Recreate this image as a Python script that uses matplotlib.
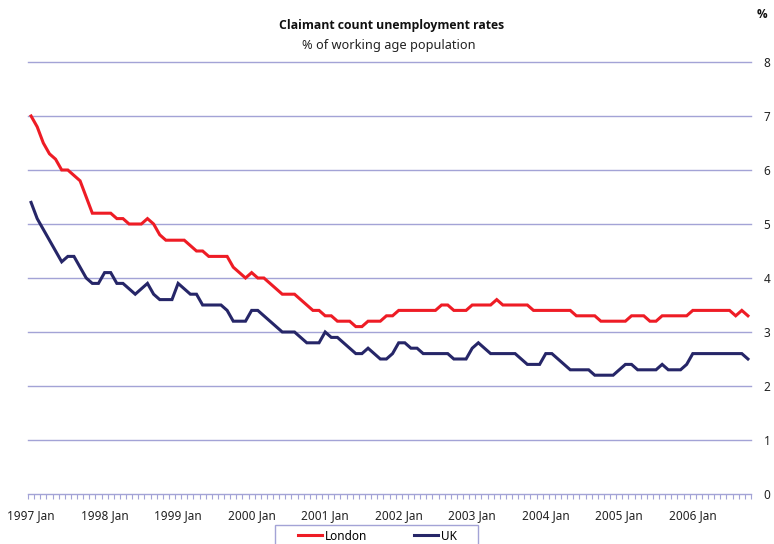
import matplotlib
matplotlib.use("Agg")
import matplotlib.pyplot as plt
from matplotlib.patches import Rectangle

plt.rcParams['font.family'] = ['Noto Sans', 'DejaVu Sans']

years = ['1997', '1998', '1999', '2000', '2001', '2002', '2003', '2004', '2005', '2006']
year_labels = [y + ' Jan' for y in years]

london = [7.0, 6.8, 6.5, 6.3, 6.2, 6.0, 6.0, 5.9, 5.8, 5.5, 5.2, 5.2,
          5.2, 5.2, 5.1, 5.1, 5.0, 5.0, 5.0, 5.1, 5.0, 4.8, 4.7, 4.7,
          4.7, 4.7, 4.6, 4.5, 4.5, 4.4, 4.4, 4.4, 4.4, 4.2, 4.1, 4.0,
          4.1, 4.0, 4.0, 3.9, 3.8, 3.7, 3.7, 3.7, 3.6, 3.5, 3.4, 3.4,
          3.3, 3.3, 3.2, 3.2, 3.2, 3.1, 3.1, 3.2, 3.2, 3.2, 3.3, 3.3,
          3.4, 3.4, 3.4, 3.4, 3.4, 3.4, 3.4, 3.5, 3.5, 3.4, 3.4, 3.4,
          3.5, 3.5, 3.5, 3.5, 3.6, 3.5, 3.5, 3.5, 3.5, 3.5, 3.4, 3.4,
          3.4, 3.4, 3.4, 3.4, 3.4, 3.3, 3.3, 3.3, 3.3, 3.2, 3.2, 3.2,
          3.2, 3.2, 3.3, 3.3, 3.3, 3.2, 3.2, 3.3, 3.3, 3.3, 3.3, 3.3,
          3.4, 3.4, 3.4, 3.4, 3.4, 3.4, 3.4, 3.3, 3.4, 3.3]

uk = [5.4, 5.1, 4.9, 4.7, 4.5, 4.3, 4.4, 4.4, 4.2, 4.0, 3.9, 3.9,
      4.1, 4.1, 3.9, 3.9, 3.8, 3.7, 3.8, 3.9, 3.7, 3.6, 3.6, 3.6,
      3.9, 3.8, 3.7, 3.7, 3.5, 3.5, 3.5, 3.5, 3.4, 3.2, 3.2, 3.2,
      3.4, 3.4, 3.3, 3.2, 3.1, 3.0, 3.0, 3.0, 2.9, 2.8, 2.8, 2.8,
      3.0, 2.9, 2.9, 2.8, 2.7, 2.6, 2.6, 2.7, 2.6, 2.5, 2.5, 2.6,
      2.8, 2.8, 2.7, 2.7, 2.6, 2.6, 2.6, 2.6, 2.6, 2.5, 2.5, 2.5,
      2.7, 2.8, 2.7, 2.6, 2.6, 2.6, 2.6, 2.6, 2.5, 2.4, 2.4, 2.4,
      2.6, 2.6, 2.5, 2.4, 2.3, 2.3, 2.3, 2.3, 2.2, 2.2, 2.2, 2.2,
      2.3, 2.4, 2.4, 2.3, 2.3, 2.3, 2.3, 2.4, 2.3, 2.3, 2.3, 2.4,
      2.6, 2.6, 2.6, 2.6, 2.6, 2.6, 2.6, 2.6, 2.6, 2.5]

yticks = [0, 1, 2, 3, 4, 5, 6, 7, 8]

RED = '#ee1c25'
NAVY = '#262668'
GRID = '#a3a3d6'
TXT = '#222222'
BOLD_FAMILY = ['Open Sans', 'DejaVu Sans']

W, H = 774, 544
fig = plt.figure(figsize=(W / 100, H / 100), dpi=100)
ax = fig.add_axes([28 / W, 1 - 494 / H, (751 - 28) / W, (494 - 62) / H])

n = len(london)
x = list(range(n))
ax.plot(x, london, color=RED, lw=2.2, solid_joinstyle='miter', zorder=3, label='London')
ax.plot(x, uk, color=NAVY, lw=2.2, solid_joinstyle='miter', zorder=3, label='UK')

ax.set_xlim(-0.5, n - 0.5)
ax.set_ylim(0, 8)

for s in ax.spines.values():
    s.set_visible(False)

for v in yticks:
    ax.axhline(v, color=GRID, lw=1.0, zorder=1, clip_on=False)

ax.yaxis.tick_right()
ax.set_yticks(yticks)
ax.set_yticklabels([str(v) for v in yticks])
ax.tick_params(axis='y', length=0, pad=9, labelsize=8.5, labelcolor=TXT)

# monthly minor ticks at category boundaries, labels at each January
ax.set_xticks([i - 0.5 for i in range(n + 1)], minor=True)
ax.set_xticks(list(range(0, n, 12)))
ax.set_xticklabels(year_labels)
ax.tick_params(axis='x', which='minor', length=3.5, width=0.8, color=GRID, direction='out')
ax.tick_params(axis='x', which='major', length=0, pad=11, labelsize=8.5, labelcolor=TXT)

fig.text(392 / W, 1 - 26 / H, 'Claimant count unemployment rates', ha='center', va='center',
         fontsize=8.8, fontweight='bold', color='#111111', family=BOLD_FAMILY)
fig.text(389 / W, 1 - 45 / H, '% of working age population', ha='center', va='center',
         fontsize=9.2, color=TXT)
fig.text(762 / W, 1 - 14 / H, '%', ha='center', va='center', fontsize=8.5,
         fontweight='bold', color='#111111', family=BOLD_FAMILY)

# legend box
fig.add_artist(Rectangle((275 / W, -0.05), (478 - 275) / W, 0.05 + 1 - 525 / H,
                         transform=fig.transFigure, facecolor='white', edgecolor=GRID, lw=1.0))
handles, labels = ax.get_legend_handles_labels()
fig.legend(handles, labels, loc='center left', bbox_to_anchor=(298 / W, 1 - 536 / H),
           ncol=2, frameon=False, fontsize=8.5, handlelength=2.0, handletextpad=0.25,
           columnspacing=4.0, borderpad=0, borderaxespad=0)

fig.savefig('out.png', dpi=100)
